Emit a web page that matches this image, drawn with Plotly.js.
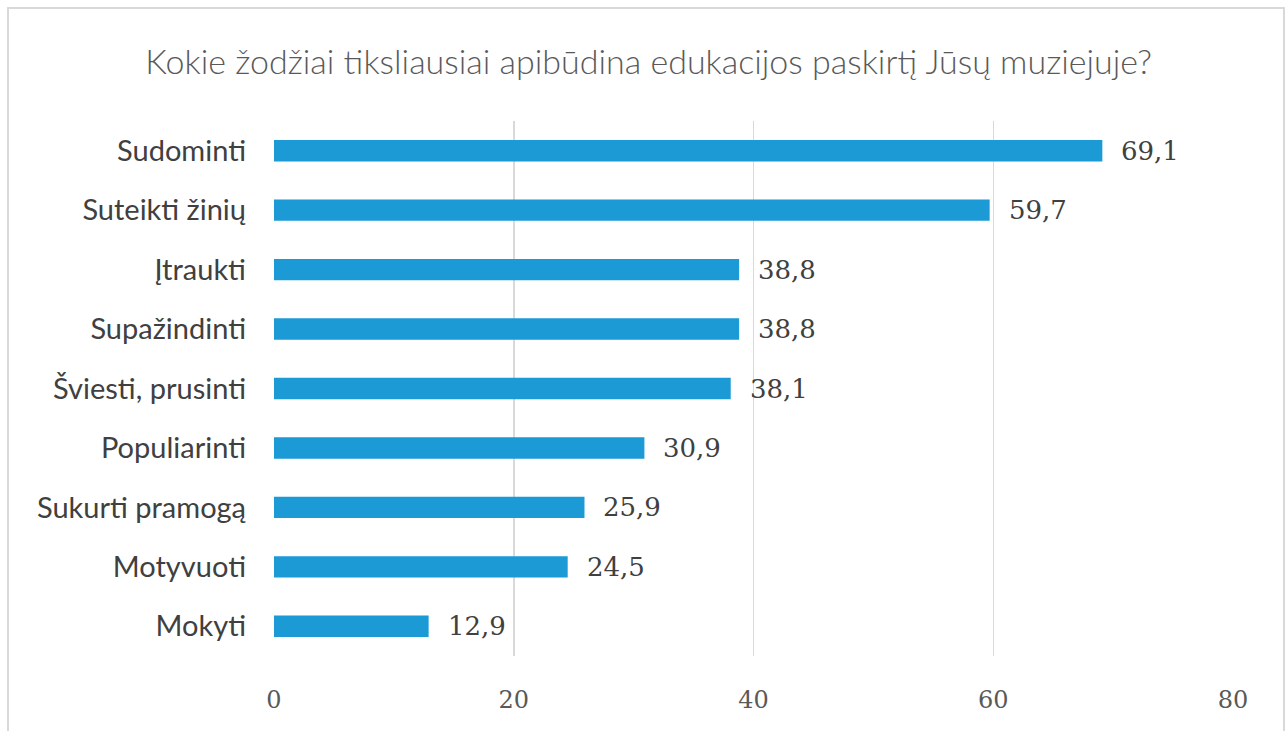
<!DOCTYPE html>
<html>
<head>
<meta charset="utf-8">
<script src="https://cdn.plot.ly/plotly-3.0.1.min.js"></script>
<style>
html,body{margin:0;padding:0;background:#fff;}
#chart{position:absolute;left:0;top:0;width:1287px;height:731px;}
#frame{position:absolute;left:7px;top:7px;width:1274px;height:760px;border:2px solid #d9d9d9;pointer-events:none;}
</style>
</head>
<body>
<div id="chart"></div>
<div id="frame"></div>
<script>
const categories = ["Sudominti","Suteikti žinių","Įtraukti","Supažindinti","Šviesti, prusinti","Populiarinti","Sukurti pramogą","Motyvuoti","Mokyti"];
const values = [69.1, 59.7, 38.8, 38.8, 38.1, 30.9, 25.9, 24.5, 12.9];
const tickValues = [0, 20, 40, 60, 80];
const titleText = "Kokie žodžiai tiksliausiai apibūdina edukacijos paskirtį Jūsų muziejuje?";

const fmt = v => v.toFixed(1).replace('.', ',');

const trace = {
  type: 'bar',
  orientation: 'h',
  x: values,
  y: categories,
  marker: {color: '#1b9ad6'},
  width: 0.36,
  hoverinfo: 'skip'
};

const annotations = values.map((v, i) => ({
  x: v, y: categories[i], xref: 'x', yref: 'y',
  text: fmt(v), showarrow: false, xanchor: 'left', xshift: 17,
  font: {family: 'DejaVu Serif, Liberation Serif, serif', size: 26, color: '#404040'}
}));

const layout = {
  width: 1287, height: 731,
  margin: {l: 274, r: 54, t: 121, b: 75},
  paper_bgcolor: '#ffffff', plot_bgcolor: '#ffffff',
  showlegend: false,
  title: {text: titleText, x: 0.504, xanchor: 'center', y: 0.915, yanchor: 'middle',
    font: {family: 'Lato, Open Sans, sans-serif', size: 34, weight: 300, color: '#595959'}},
  xaxis: {range: [0, 80], tickvals: tickValues, ticktext: tickValues.map(String),
    showgrid: true, gridcolor: '#d9d9d9', gridwidth: 1.5, zeroline: false,
    showline: false, ticks: '', ticklabelstandoff: 27,
    tickfont: {family: 'DejaVu Serif, Liberation Serif, serif', size: 24, color: '#595959'}},
  yaxis: {type: 'category', autorange: 'reversed', showgrid: false, zeroline: false,
    showline: false, ticks: '', ticklabelstandoff: 27,
    tickfont: {family: 'Lato, Open Sans, sans-serif', size: 29, color: '#404040'}},
  annotations: annotations
};

Plotly.newPlot('chart', [trace], layout, {displayModeBar: false, staticPlot: true});
</script>
</body>
</html>
